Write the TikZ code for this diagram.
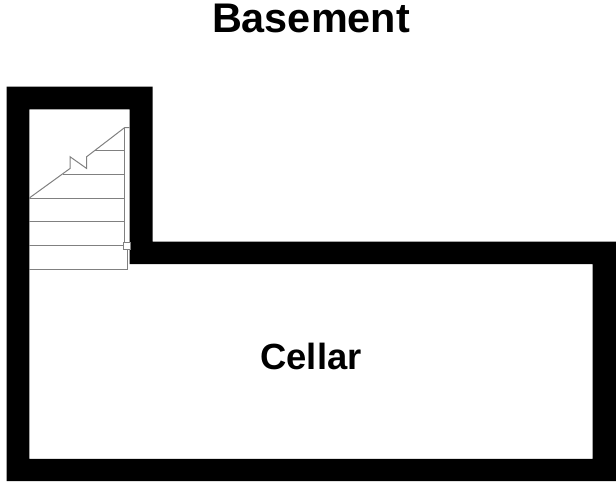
\documentclass[tikz,border=0pt]{standalone}
\usepackage{fontspec}
\setmainfont{Liberation Sans}
\usetikzlibrary{positioning}
\def\treadEnd{124.5}
\tikzstyle{wall}=[fill=black,even odd rule]
\tikzstyle{stairs}=[draw=black!50,line width=1pt]
\tikzstyle{roomlabel}=[font=\bfseries\fontsize{36.4}{36}\selectfont,anchor=base,inner sep=0pt]
\tikzstyle{titlelabel}=[font=\bfseries\fontsize{41.4}{42}\selectfont,anchor=base,inner sep=0pt]
\newcommand{\newTread}[2]{\draw[stairs] (#1,#2) -- (\treadEnd,#2);}
\begin{document}
\begin{tikzpicture}[x=1pt,y=-1pt]
  \useasboundingbox (0,0) rectangle (616,488);
  % walls
  \path[wall] (6.7,86.7) -- (152.5,86.7) -- (152.5,241.7) -- (616,241.7) -- (616,481) -- (6.7,481) -- cycle
    (29.3,109.4) -- (129.5,109.4) -- (129.5,264) -- (592.7,264) -- (592.7,458.8) -- (29.3,458.8) -- cycle;
  % stairs
  \newTread{95}{150.7}
  \newTread{63}{174.3}
  \newTread{29.3}{198}
  \newTread{29.3}{221.7}
  \newTread{29.3}{245.4}
  \draw[stairs] (\treadEnd,127.7) -- (\treadEnd,241.7);
  \draw[stairs] (129.5,127.7) -- (\treadEnd,127.7) -- (86.7,156.7) -- (86.7,168.5) -- (70,156.7) -- (70,168.5) -- (29.3,198);
  \draw[stairs] (29.3,269.3) -- (127.3,269.3) -- (127.3,249.3);
  \node[draw=black!50,fill=white,line width=1pt,minimum size=7pt,inner sep=0pt] (newel) at (127,245.5) {};
  % labels
  \node[titlelabel] (title) at (311,32) {Basement};
  \node[roomlabel] (cellar) at (311,369) {Cellar};
\end{tikzpicture}
\end{document}
